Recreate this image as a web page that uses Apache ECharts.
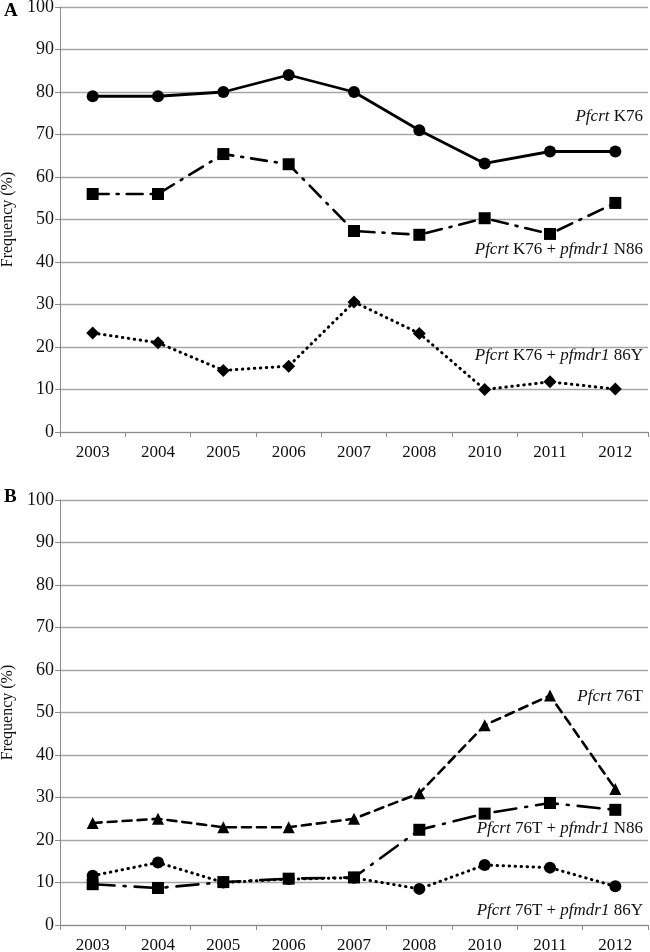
<!DOCTYPE html>
<html>
<head>
<meta charset="utf-8">
<script src="https://cdn.jsdelivr.net/npm/echarts@6/dist/echarts.min.js"></script>
<style>html,body{margin:0;padding:0;background:#fff}#c{width:650px;height:952px}</style>
</head>
<body>
<div id="c"></div>
<script>
const years = ['2003','2004','2005','2006','2007','2008','2010','2011','2012'];
const yTicks = [0,10,20,30,40,50,60,70,80,90,100];
// Panel A
const aK76 = [79, 79, 80, 84, 80, 71, 63.2, 66, 66];
const aK76N86 = [56, 56, 65.4, 63, 47.3, 46.4, 50.3, 46.6, 53.9];
const aK76_86Y = [23.3, 21, 14.5, 15.5, 30.6, 23.2, 10, 11.8, 10.1];
// Panel B
const b76T = [24, 25, 23, 23, 25, 31, 47, 54, 32];
const b76TN86 = [9.6, 8.7, 10.1, 10.9, 11.2, 22.4, 26.2, 28.7, 27.1];
const b76T_86Y = [11.6, 14.7, 10, 10.8, 11.1, 8.5, 14.1, 13.5, 9.1];

const FONT = '"Liberation Serif","DejaVu Serif",serif';
const chart = echarts.init(document.getElementById('c'), null, {renderer: 'canvas'});

function grid(top){ return {left: 60, top: top, width: 588, height: 425, containLabel: false, outerBoundsMode: 'none'}; }
function xAxis(i){
  return {
    type: 'category', gridIndex: i, data: years, boundaryGap: true,
    axisLine: {lineStyle: {color: '#8c8c8c', width: 1}},
    axisTick: {show: true, length: 5, lineStyle: {color: '#8c8c8c'}},
    axisLabel: {color: '#111', fontFamily: FONT, fontSize: 17, margin: 12}
  };
}
function yAxis(i){
  return {
    type: 'value', gridIndex: i, min: 0, max: 100, interval: 10,
    name: 'Frequency (%)', nameLocation: 'middle', nameGap: 39, nameRotate: 90,
    nameTextStyle: {fontFamily: FONT, fontSize: 16, color: '#111'},
    axisLine: {show: true, lineStyle: {color: '#8c8c8c', width: 1}},
    axisTick: {show: true, length: 5, lineStyle: {color: '#8c8c8c'}},
    axisLabel: {color: '#111', fontFamily: FONT, fontSize: 18, margin: 6},
    splitLine: {show: true, lineStyle: {color: '#a6a6a6', width: 1.3}}
  };
}
function ser(i, data, symbol, size, dash, width){
  return {
    type: 'line', xAxisIndex: i, yAxisIndex: i, data: data,
    symbol: symbol, symbolSize: size, showSymbol: true,
    itemStyle: {color: '#000'},
    lineStyle: {color: '#000', width: width || 2.6, type: dash, cap: 'round'},
    animation: false, z: 3
  };
}
const rich = {i: {fontStyle: 'italic', fontFamily: FONT, fontSize: 17, color: '#111'}, n: {fontFamily: FONT, fontSize: 17, color: '#111'}};
function lab(txt, y){
  return {type: 'text', right: 7, top: y - 10, style: {text: txt, rich: rich, font: '17px ' + FONT, fill: '#111', align: 'right'}};
}
chart.setOption({
  animation: false,
  backgroundColor: '#fff',
  grid: [grid(7), grid(500)],
  xAxis: [xAxis(0), xAxis(1)],
  yAxis: [yAxis(0), yAxis(1)],
  series: [
    ser(0, aK76, 'circle', 12, 'solid', 2.8),
    ser(0, aK76N86, 'rect', 12, [16, 8, 2, 8]),
    ser(0, aK76_86Y, 'diamond', 13, [0.5, 5.5], 3),
    ser(1, b76T, 'triangle', 12, [9, 6]),
    ser(1, b76TN86, 'rect', 12, [22, 9, 2, 9]),
    ser(1, b76T_86Y, 'circle', 12, [0.5, 5.5], 3)
  ],
  graphic: [
    {type: 'text', left: 4, top: 2, style: {text: 'A', font: 'bold 19px ' + FONT, fill: '#000'}},
    {type: 'text', left: 4, top: 488, style: {text: 'B', font: 'bold 19px ' + FONT, fill: '#000'}},
    lab('{i|Pfcrt}{n| K76}', 118),
    lab('{i|Pfcrt}{n| K76 + }{i|pfmdr1}{n| N86}', 251),
    lab('{i|Pfcrt}{n| K76 + }{i|pfmdr1}{n| 86Y}', 357),
    lab('{i|Pfcrt}{n| 76T}', 698),
    lab('{i|Pfcrt}{n| 76T + }{i|pfmdr1}{n| N86}', 830),
    lab('{i|Pfcrt}{n| 76T + }{i|pfmdr1}{n| 86Y}', 912)
  ]
});
</script>
</body>
</html>
